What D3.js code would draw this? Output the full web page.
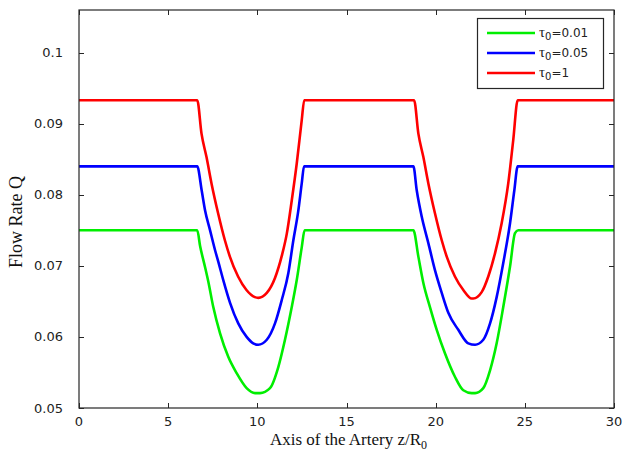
<!DOCTYPE html>
<html><head><meta charset="utf-8">
<script src="https://cdn.jsdelivr.net/npm/d3@7"></script>
<style>html,body{margin:0;padding:0;background:#fff}svg{display:block}</style>
</head><body>
<svg id="c" width="629" height="452"></svg>
<script>
const xTicks = [0, 5, 10, 15, 20, 25, 30];
const yTicks = [0.05, 0.06, 0.07, 0.08, 0.09, 0.1];
const yTickLabels = ["0.05", "0.06", "0.07", "0.08", "0.09", "0.1"];
const seriesNames = ["0.01", "0.05", "1"];
const seriesColors = ["#00ee00", "#0000ff", "#ff0000"];

const zGreen = [0, 6.63, 6.79, 7.07, 7.25, 7.53, 7.91, 8.37, 8.84, 9.40, 9.87, 10.15, 10.71, 11.18, 11.55, 11.93, 12.21, 12.49, 12.65,
  18.75, 19.03, 19.31, 19.68, 20.06, 20.52, 21.08, 21.55, 22.02, 22.21, 22.67, 23.05, 23.42, 23.79, 24.17, 24.45, 24.63, 30];
const qGreen = [0.0750, 0.0750, 0.0728, 0.0698, 0.0678, 0.0642, 0.0605, 0.0572, 0.0549, 0.0528, 0.0521, 0.0521, 0.0528, 0.0558, 0.0596, 0.0642, 0.0680, 0.0726, 0.0750,
  0.0750, 0.0713, 0.0676, 0.0642, 0.0610, 0.0577, 0.0544, 0.0525, 0.0521, 0.0521, 0.0528, 0.0553, 0.0591, 0.0642, 0.0699, 0.0746, 0.0750, 0.0750];

const zBlue = [0, 6.63, 6.88, 7.07, 7.35, 7.63, 7.81, 8.09, 8.47, 8.93, 9.40, 9.77, 10.05, 10.53, 10.99, 11.37, 11.74, 12.02, 12.30, 12.49, 12.62,
  18.75, 18.94, 19.22, 19.59, 19.96, 20.34, 20.71, 21.27, 21.83, 22.21, 22.67, 23.05, 23.42, 23.79, 24.17, 24.41, 24.60, 30];
const qBlue = [0.0840, 0.0840, 0.0806, 0.0778, 0.0750, 0.0722, 0.0706, 0.0680, 0.0648, 0.0619, 0.0600, 0.0591, 0.0589, 0.0596, 0.0619, 0.0652, 0.0690, 0.0736, 0.0778, 0.0816, 0.0840,
  0.0840, 0.0806, 0.0769, 0.0732, 0.0694, 0.0662, 0.0634, 0.0610, 0.0591, 0.0589, 0.0596, 0.0619, 0.0656, 0.0704, 0.0760, 0.0806, 0.0840, 0.0840];

const zRed = [0, 6.63, 6.87, 7.15, 7.43, 7.80, 8.18, 8.46, 8.92, 9.39, 9.86, 10.05, 10.53, 10.99, 11.37, 11.65, 11.93, 12.21, 12.49, 12.63,
  18.79, 19.03, 19.31, 19.59, 19.96, 20.34, 20.62, 21.08, 21.55, 22.02, 22.11, 22.58, 22.95, 23.33, 23.70, 24.07, 24.35, 24.60, 30];
const qRed = [0.0933, 0.0933, 0.0886, 0.0853, 0.0816, 0.0774, 0.0736, 0.0713, 0.0685, 0.0666, 0.0656, 0.0655, 0.0662, 0.0683, 0.0714, 0.0745, 0.0792, 0.0844, 0.0905, 0.0933,
  0.0933, 0.0886, 0.0853, 0.0816, 0.0774, 0.0736, 0.0713, 0.0685, 0.0666, 0.0654, 0.0654, 0.0663, 0.0685, 0.0718, 0.0760, 0.0816, 0.0877, 0.0933, 0.0933];

const series = [
  {name: seriesNames[0], color: seriesColors[0], z: zGreen, q: qGreen},
  {name: seriesNames[1], color: seriesColors[1], z: zBlue, q: qBlue},
  {name: seriesNames[2], color: seriesColors[2], z: zRed, q: qRed}
];

const L = 79, R = 614, T = 10, B = 408;
const svg = d3.select("#c");
const x = d3.scaleLinear().domain([0, 30]).range([L, R]);
const y = d3.scaleLinear().domain([0.05, 0.106]).range([B, T]);
const axisColor = "#262626";
const tickFont = "'DejaVu Sans', Verdana, sans-serif";

// lines
const line = d3.line().x(d => x(d[0])).y(d => y(d[1])).curve(d3.curveMonotoneX);
series.forEach(s => {
  svg.append("path")
    .datum(s.z.map((z, i) => [z, s.q[i]]))
    .attr("fill", "none").attr("stroke", s.color).attr("stroke-width", 2.6)
    .attr("stroke-linejoin", "round").attr("d", line);
});

// frame
svg.append("rect").attr("x", L).attr("y", T).attr("width", R - L).attr("height", B - T)
  .attr("fill", "none").attr("stroke", axisColor).attr("stroke-width", 1.2);

// ticks (inward, mirrored)
const tk = 5;
xTicks.forEach(v => {
  const px = Math.round(x(v)) + 0.5;
  svg.append("line").attr("x1", px).attr("x2", px).attr("y1", B).attr("y2", B - tk).attr("stroke", axisColor);
  svg.append("line").attr("x1", px).attr("x2", px).attr("y1", T).attr("y2", T + tk).attr("stroke", axisColor);
  svg.append("text").attr("x", x(v)).attr("y", 426).attr("text-anchor", "middle")
    .attr("font-family", tickFont).attr("font-size", 13).attr("fill", "#222").text(v);
});
yTicks.forEach((v, i) => {
  const py = Math.round(y(v)) + 0.5;
  svg.append("line").attr("x1", L).attr("x2", L + tk).attr("y1", py).attr("y2", py).attr("stroke", axisColor);
  svg.append("line").attr("x1", R).attr("x2", R - tk).attr("y1", py).attr("y2", py).attr("stroke", axisColor);
  svg.append("text").attr("x", 63).attr("y", y(v)).attr("dy", "0.35em").attr("text-anchor", "end")
    .attr("font-family", tickFont).attr("font-size", 13).attr("fill", "#222").text(yTickLabels[i]);
});

// axis titles
const serif = "'Liberation Serif', 'Times New Roman', serif";
const xt = svg.append("text").attr("x", (L + R) / 2 + 2).attr("y", 445).attr("text-anchor", "middle")
  .attr("font-family", serif).attr("font-size", 17).attr("fill", "#111");
xt.append("tspan").text("Axis of the Artery z/R");
xt.append("tspan").attr("font-size", 12).attr("dy", 4).text("0");

svg.append("text").attr("transform", "translate(22," + ((T + B) / 2 + 13) + ") rotate(-90)")
  .attr("text-anchor", "middle").attr("font-family", serif).attr("font-size", 18).attr("fill", "#111")
  .text("Flow Rate Q");

// legend
const lg = svg.append("g");
lg.append("rect").attr("x", 477.5).attr("y", 18.5).attr("width", 126).attr("height", 70)
  .attr("fill", "#fff").attr("stroke", axisColor).attr("stroke-width", 1.2);
const ly = [33, 53, 73];
series.forEach((s, i) => {
  lg.append("line").attr("x1", 487).attr("x2", 535).attr("y1", ly[i]).attr("y2", ly[i])
    .attr("stroke", s.color).attr("stroke-width", 2.6);
  const t = lg.append("text").attr("x", 539).attr("y", ly[i] + 4)
    .attr("font-family", tickFont).attr("font-size", 12).attr("fill", "#222");
  t.append("tspan").attr("font-family", serif).attr("font-size", 15).text("\u03C4");
  t.append("tspan").attr("font-size", 10).attr("dy", 3).text("0");
  t.append("tspan").attr("dy", -3).text("=" + s.name);
});
</script>
</body></html>
